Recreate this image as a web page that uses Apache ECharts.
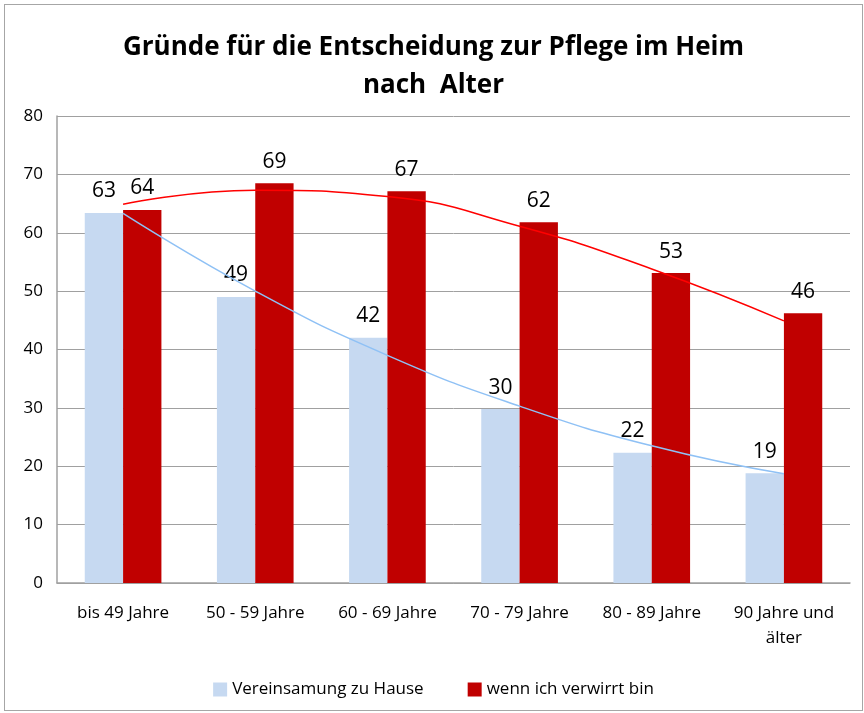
<!DOCTYPE html>
<html>
<head>
<meta charset="UTF-8">
<title>Pflege im Heim nach Alter</title>
<script src="https://cdn.jsdelivr.net/npm/echarts@6/dist/echarts.min.js"></script>
<style>
html, body { margin: 0; padding: 0; background: #fff; }
#chart {
	position: absolute; left: 4px; top: 4px;
	width: 857px; height: 705px;
	border: 1px solid #a6a6a6;
}
</style>
</head>
<body>
<div id="chart"></div>
<script>
// Altersgruppen
var ageGroups = ['bis 49 Jahre', '50 - 59 Jahre', '60 - 69 Jahre', '70 - 79 Jahre', '80 - 89 Jahre', '90 Jahre und\nälter'];
// Werte (Prozent), Beschriftung gerundet
var lonely = [63.4, 49.0, 42.0, 29.8, 22.3, 18.8];
var confused = [63.9, 68.5, 67.1, 61.8, 53.1, 46.2];
// Trendlinien
var lonelyTrend = [63.3, 50.0, 39.0, 30.3, 23.5, 18.7];
var confusedTrend = [64.9, 67.3, 66.2, 61.1, 53.8, 44.9];

var font = 'Open Sans';
var chart = echarts.init(document.getElementById('chart'));

var barLabel = {
	show: true, position: 'top', distance: 11,
	fontFamily: font, fontSize: 21, color: '#000',
	formatter: function (p) { return Math.round(p.value); }
};

var option = {
	animation: false,
	title: {
		text: 'Gründe für die Entscheidung zur Pflege im Heim\nnach  Alter',
		left: 'center',
		top: 19,
		textStyle: { fontFamily: font, fontSize: 26, fontWeight: 'bold', color: '#000', lineHeight: 38 }
	},
	legend: {
		bottom: 7,
		left: 'center',
		itemWidth: 14, itemHeight: 14, itemGap: 44,
		icon: 'rect',
		data: ['Vereinsamung zu Hause', 'wenn ich verwirrt bin'],
		textStyle: { fontFamily: font, fontSize: 17, color: '#000' }
	},
	grid: { left: 52, right: 12, top: 111, bottom: 127 },
	xAxis: {
		type: 'category',
		data: ageGroups,
		axisLine: { lineStyle: { color: '#a0a0a0', width: 1.5 } },
		axisTick: { show: false },
		axisLabel: { fontFamily: font, fontSize: 17, color: '#000', margin: 18, lineHeight: 25 }
	},
	yAxis: {
		type: 'value',
		min: 0, max: 80, interval: 10,
		axisLine: { show: true, lineStyle: { color: '#a0a0a0', width: 1.5 } },
		axisTick: { show: false },
		splitLine: { lineStyle: { color: '#a0a0a0', width: 1 } },
		axisLabel: { fontFamily: font, fontSize: 17, color: '#000', margin: 14 }
	},
	series: [
		{
			name: 'Vereinsamung zu Hause',
			type: 'bar',
			data: lonely,
			barGap: '0%',
			barCategoryGap: '42%',
			itemStyle: { color: '#c6d9f1' },
			label: barLabel
		},
		{
			name: 'wenn ich verwirrt bin',
			type: 'bar',
			data: confused,
			barGap: '0%',
			barCategoryGap: '42%',
			itemStyle: { color: '#c00000' },
			label: barLabel
		},
		{
			name: 'trend1',
			type: 'line',
			data: lonelyTrend,
			smooth: true,
			symbol: 'none',
			silent: true,
			z: 5,
			lineStyle: { color: '#8fc1f5', width: 1.5 }
		},
		{
			name: 'trend2',
			type: 'line',
			data: confusedTrend,
			smooth: true,
			symbol: 'none',
			silent: true,
			z: 5,
			lineStyle: { color: '#ff0000', width: 1.5 }
		}
	]
};

chart.setOption(option);
</script>
</body>
</html>
